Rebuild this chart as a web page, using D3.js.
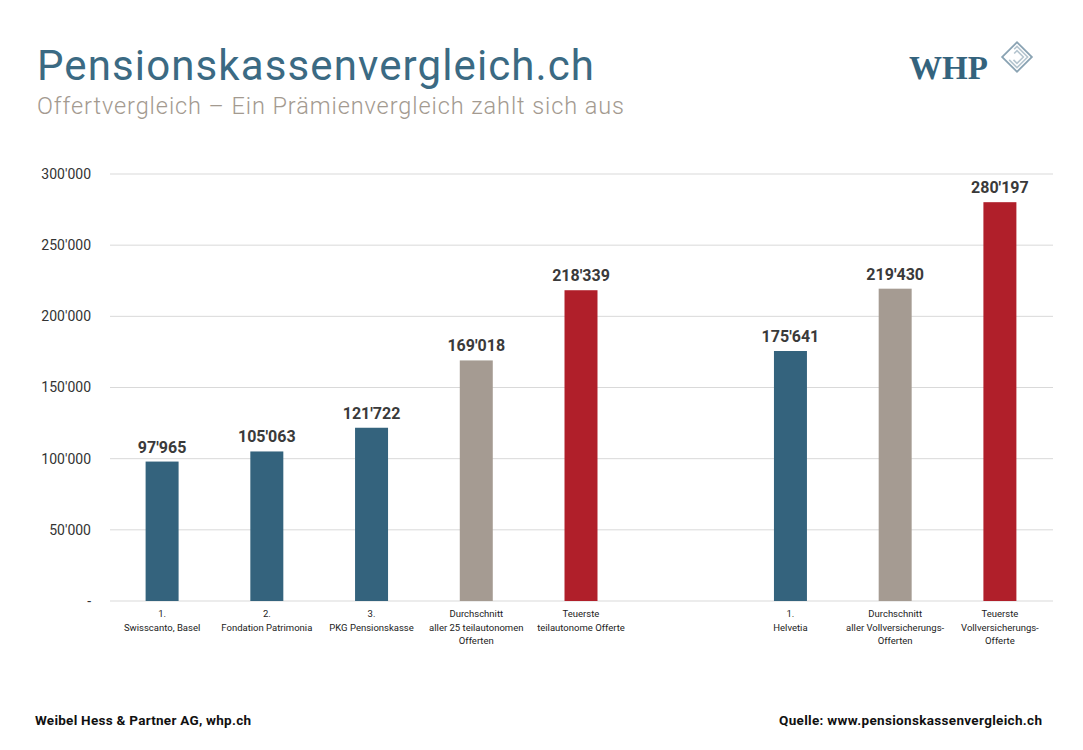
<!DOCTYPE html>
<html><head><meta charset="utf-8">
<script src="https://cdn.jsdelivr.net/npm/d3@7"></script>
<style>body{margin:0;background:#fff}svg{display:block}</style>
</head><body>
<svg id="c" width="1083" height="750"></svg>
<script>
const categories = [
  ["1.", "Swisscanto, Basel"],
  ["2.", "Fondation Patrimonia"],
  ["3.", "PKG Pensionskasse"],
  ["Durchschnitt", "aller 25 teilautonomen", "Offerten"],
  ["Teuerste", "teilautonome Offerte"],
  [],
  ["1.", "Helvetia"],
  ["Durchschnitt", "aller Vollversicherungs-", "Offerten"],
  ["Teuerste", "Vollversicherungs-", "Offerte"]
];
const values = [97965, 105063, 121722, 169018, 218339, null, 175641, 219430, 280197];
const kinds = ["top", "top", "top", "avg", "max", null, "top", "avg", "max"];
const yTicks = [0, 50000, 100000, 150000, 200000, 250000, 300000];
const colors = {top: "#34637d", avg: "#a59b92", max: "#b01f2a"};

const svg = d3.select("#c");
const fmt = v => v === 0 ? "-" : String(v).replace(/\B(?=(\d{3})+(?!\d))/g, "'");

const x = d3.scaleBand().domain(d3.range(categories.length)).range([110, 1052]).paddingInner(0.685).paddingOuter(0.34);
const y = d3.scaleLinear().domain([0, 300000]).range([601, 174]);

// title
svg.append("text").attr("x", 37).attr("y", 80).attr("fill", "#3b6a83")
  .attr("textLength", 557).attr("lengthAdjust", "spacing")
  .style("font-family", "Roboto, sans-serif").style("font-size", "42px").text("Pensionskassenvergleich.ch");
svg.append("text").attr("x", 37).attr("y", 114).attr("fill", "#a39a90")
  .attr("textLength", 587).attr("lengthAdjust", "spacing")
  .style("font-family", "Roboto, sans-serif").style("font-weight", "300").style("font-size", "23.5px").text("Offertvergleich \u2013 Ein Prämienvergleich zahlt sich aus");

// logo
const logo = svg.append("g");
logo.append("text").attr("x", 909).attr("y", 79).attr("fill", "#34637d")
  .style("font-family", "'Liberation Serif', serif").style("font-weight", "bold").style("font-size", "33px").text("WHP");
const lg = logo.append("g").attr("transform", "translate(1017,57) rotate(45)");
lg.append("rect").attr("x", -10.5).attr("y", -10.5).attr("width", 21).attr("height", 21)
  .attr("fill", "none").attr("stroke", "#8aa3b3").attr("stroke-width", 1.8);
[7.5, 4.5].forEach(s => {
  lg.append("path").attr("d", `M${-s},${-s + 4}V${-s}H${s}V${s}H${-s + 4}`)
    .attr("fill", "none").attr("stroke", "#b5c5cf").attr("stroke-width", 1.6);
});

// grid
svg.append("g").selectAll("line").data(yTicks).join("line")
  .attr("x1", 110).attr("x2", 1053).attr("y1", d => y(d)).attr("y2", d => y(d))
  .attr("stroke", "#d9d9d9").attr("stroke-width", 1);

// y axis
const ya = svg.append("g").attr("transform", "translate(91,0)")
  .call(d3.axisLeft(y).tickValues(yTicks).tickFormat(fmt).tickSize(0).tickPadding(0));
ya.select(".domain").remove();
ya.selectAll("text").attr("fill", "#333").style("font-family", "Roboto, sans-serif").style("font-size", "14px");

// bars
const data = values.map((v, i) => ({i, v, k: kinds[i]})).filter(d => d.v !== null);
svg.append("g").selectAll("rect").data(data).join("rect")
  .attr("x", d => x(d.i)).attr("width", x.bandwidth())
  .attr("y", d => y(d.v)).attr("height", d => y(0) - y(d.v))
  .attr("fill", d => colors[d.k]);

svg.append("g").selectAll("text").data(data).join("text")
  .attr("x", d => x(d.i) + x.bandwidth() / 2).attr("y", d => y(d.v) - 9)
  .attr("text-anchor", "middle").attr("fill", "#3a3a3a")
  .style("font-family", "Roboto, sans-serif").style("font-weight", "bold").style("font-size", "16px")
  .text(d => fmt(d.v));

// category labels
const cl = svg.append("g");
categories.forEach((lines, i) => {
  lines.forEach((t, j) => {
    cl.append("text").attr("x", x(i) + x.bandwidth() / 2).attr("y", 617 + j * 13.5)
      .attr("text-anchor", "middle").attr("fill", "#222")
      .style("font-family", "Roboto, sans-serif").style("font-size", "9.5px").text(t);
  });
});

// footer
svg.append("text").attr("x", 35).attr("y", 725).attr("fill", "#111")
  .attr("textLength", 216).attr("lengthAdjust", "spacing")
  .style("font-family", "Roboto, sans-serif").style("font-weight", "bold").style("font-size", "13.5px")
  .text("Weibel Hess & Partner AG, whp.ch");
svg.append("text").attr("x", 779).attr("y", 725).attr("fill", "#111")
  .attr("textLength", 263).attr("lengthAdjust", "spacing")
  .style("font-family", "Roboto, sans-serif").style("font-weight", "bold").style("font-size", "13.5px")
  .text("Quelle: www.pensionskassenvergleich.ch");
</script>
</body></html>
